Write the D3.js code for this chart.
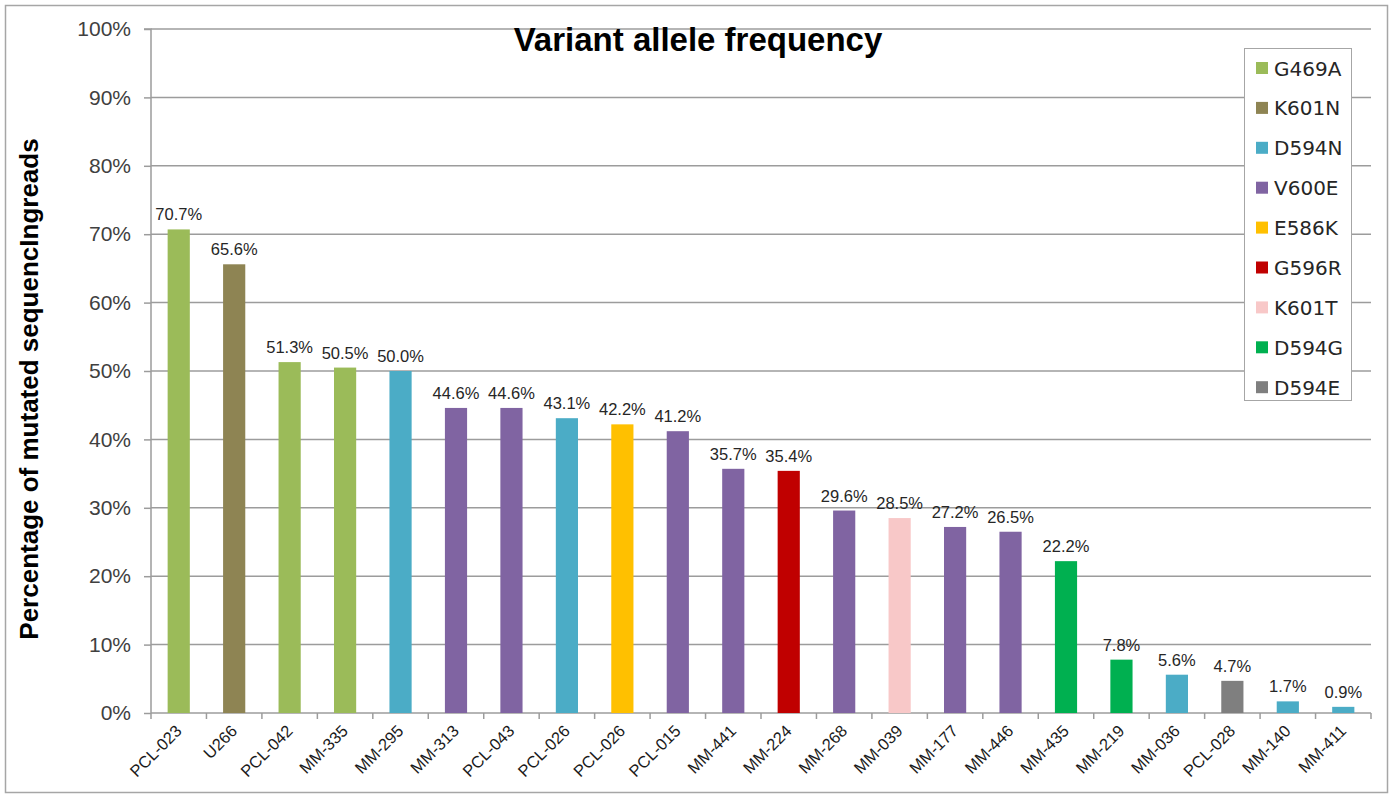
<!DOCTYPE html>
<html>
<head>
<meta charset="utf-8">
<script src="https://cdn.jsdelivr.net/npm/d3@7"></script>
<style>
  html, body { margin: 0; padding: 0; background: #fff; }
  svg { display: block; }
</style>
</head>
<body>
<svg id="chart" width="1397" height="796"></svg>
<script>
// Samples in plotted order (one sample name appears twice, so bars are keyed by index)
const samples = ["PCL-023","U266","PCL-042","MM-335","MM-295","MM-313","PCL-043","PCL-026","PCL-026","PCL-015","MM-441","MM-224","MM-268","MM-039","MM-177","MM-446","MM-435","MM-219","MM-036","PCL-028","MM-140","MM-411"];
// Variant allele frequency, in percent
const vaf = [70.7,65.6,51.3,50.5,50.0,44.6,44.6,43.1,42.2,41.2,35.7,35.4,29.6,28.5,27.2,26.5,22.2,7.8,5.6,4.7,1.7,0.9];
// Mutation carried by each sample
const mutation = ["G469A","K601N","G469A","G469A","D594N","V600E","V600E","D594N","E586K","V600E","V600E","G596R","V600E","K601T","V600E","V600E","D594G","D594G","D594N","D594E","D594N","D594N"];
// Legend order and colours
const mutations = ["G469A","K601N","D594N","V600E","E586K","G596R","K601T","D594G","D594E"];
const mutationColors = ["#9BBB59","#8E8453","#4BACC6","#8064A2","#FFC000","#C00000","#F8C8C8","#00B050","#7F7F7F"];
const yTicks = [0,10,20,30,40,50,60,70,80,90,100];

const svg = d3.select("#chart");
const font = "Liberation Sans, Arial, sans-serif";

// outer frame
svg.append("rect").attr("x", 5.5).attr("y", 5.5).attr("width", 1382).attr("height", 787)
  .attr("fill", "#fff").attr("stroke", "#A6A6A6").attr("stroke-width", 1.5);

const plot = { left: 151, right: 1371, top: 29, bottom: 713 };

const x = d3.scaleBand().domain(d3.range(samples.length)).range([plot.left, plot.right]).paddingInner(0.6).paddingOuter(0.3);
const xSlot = d3.scaleBand().domain(d3.range(samples.length)).range([plot.left, plot.right]);
const y = d3.scaleLinear().domain([0, 100]).range([plot.bottom, plot.top]);
const color = d3.scaleOrdinal().domain(mutations).range(mutationColors);

// horizontal gridlines
svg.append("g").selectAll("line").data(yTicks.filter(d => d > 0)).join("line")
  .attr("x1", plot.left).attr("x2", plot.right)
  .attr("y1", d => y(d)).attr("y2", d => y(d))
  .attr("stroke", "#9C9C9C").attr("stroke-width", 1.5);

// y axis
const yAxis = d3.axisLeft(y).tickValues(yTicks).tickFormat(d => d + "%").tickSize(7).tickPadding(13);
const gy = svg.append("g").attr("transform", `translate(${plot.left},0)`).call(yAxis);
gy.select(".domain").attr("stroke", "#9C9C9C").attr("stroke-width", 1.5).attr("d", `M-7,${plot.top}H0V${plot.bottom}`);
gy.selectAll(".tick line").attr("stroke", "#9C9C9C").attr("stroke-width", 1.5);
gy.selectAll(".tick text").attr("font-family", font).attr("font-size", 21).attr("fill", "#404040");

// x axis: ticks at slot boundaries
const gx = svg.append("g").attr("transform", `translate(0,${plot.bottom})`);
gx.append("line").attr("x1", plot.left).attr("x2", plot.right).attr("stroke", "#9C9C9C").attr("stroke-width", 1.5);
gx.selectAll("line.tk").data(d3.range(samples.length + 1)).join("line").attr("class", "tk")
  .attr("x1", i => plot.left + i * xSlot.step()).attr("x2", i => plot.left + i * xSlot.step())
  .attr("y1", 0).attr("y2", 6).attr("stroke", "#9C9C9C").attr("stroke-width", 1.5);
gx.selectAll("text").data(samples).join("text")
  .attr("transform", (d, i) => `translate(${x(i) + x.bandwidth() / 2 + 4},${19}) rotate(-45)`)
  .attr("text-anchor", "end").attr("font-family", font).attr("font-size", 16.5).attr("fill", "#1a1a1a")
  .text(d => d);

// bars
svg.append("g").selectAll("rect").data(vaf).join("rect")
  .attr("x", (d, i) => x(i)).attr("width", x.bandwidth())
  .attr("y", d => y(d)).attr("height", d => plot.bottom - y(d))
  .attr("fill", (d, i) => color(mutation[i]));

// value labels
svg.append("g").selectAll("text").data(vaf).join("text")
  .attr("x", (d, i) => x(i) + x.bandwidth() / 2).attr("y", d => y(d) - 9)
  .attr("text-anchor", "middle").attr("font-family", font).attr("font-size", 16.5).attr("fill", "#262626")
  .text(d => d.toFixed(1) + "%");

// title
svg.append("text").attr("x", 698).attr("y", 51).attr("text-anchor", "middle")
  .attr("font-family", font).attr("font-weight", "bold").attr("font-size", 33).attr("fill", "#000")
  .text("Variant allele frequency");

// y axis title
svg.append("text").attr("transform", "translate(38,389) rotate(-90)").attr("text-anchor", "middle")
  .attr("font-family", font).attr("font-weight", "bold").attr("font-size", 26).attr("fill", "#000")
  .text("Percentage of mutated sequencIngreads");

// legend
const legend = svg.append("g");
legend.append("rect").attr("x", 1244.5).attr("y", 48.5).attr("width", 107).attr("height", 352)
  .attr("fill", "#fff").attr("stroke", "#A6A6A6").attr("stroke-width", 1);
const items = legend.selectAll("g").data(mutations).join("g")
  .attr("transform", (d, i) => `translate(1256,${68 + i * 39.9})`);
items.append("rect").attr("x", 0).attr("y", -6).attr("width", 12).attr("height", 12).attr("fill", d => color(d));
items.append("text").attr("x", 18).attr("y", 7.5).attr("font-family", "DejaVu Sans, sans-serif")
  .attr("font-size", 20).attr("fill", "#262626").text(d => d);
</script>
</body>
</html>
